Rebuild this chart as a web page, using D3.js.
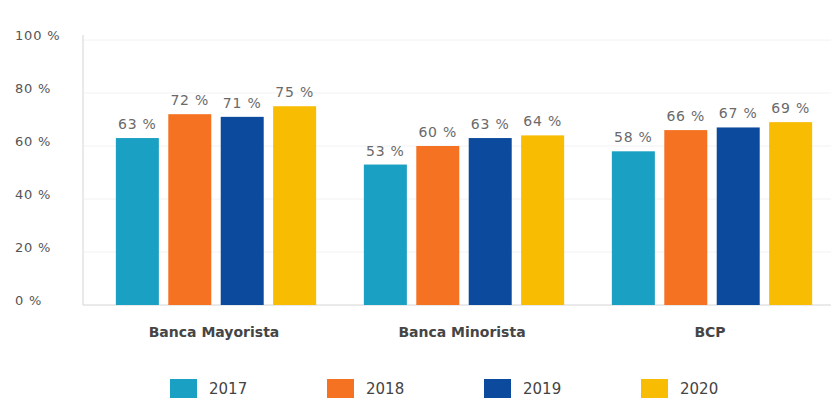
<!DOCTYPE html>
<html>
<head>
<meta charset="utf-8">
<script src="https://cdnjs.cloudflare.com/ajax/libs/d3/7.8.5/d3.min.js"></script>
<style>
  body { margin: 0; background: #fff; }
  svg { display: block; font-family: "DejaVu Sans", sans-serif; }
</style>
</head>
<body>
<div id="chart"></div>
<script>
// data
var groups = ["Banca Mayorista", "Banca Minorista", "BCP"];
var years = ["2017", "2018", "2019", "2020"];
var valuesMayorista = [63, 72, 71, 75];
var valuesMinorista = [53, 60, 63, 64];
var valuesBCP = [58, 66, 67, 69];
var yTicks = [0, 20, 40, 60, 80, 100];
var colors = ["#1aa0c2", "#f47222", "#0b4a9c", "#f8bc02"];

var seriesByGroup = [valuesMayorista, valuesMinorista, valuesBCP];

var width = 831, height = 400;
var svg = d3.select("#chart").append("svg")
    .attr("width", width)
    .attr("height", height);

// scales
var x0 = d3.scaleBand().domain(groups).range([92, 836]);
var x1 = d3.scaleBand().domain(years).range([0, x0.bandwidth()])
    .paddingInner(0.18).paddingOuter(0.455);
var y = d3.scaleLinear().domain([0, 100]).range([305, 40]);
var color = d3.scaleOrdinal().domain(years).range(colors);

// faint gridlines
svg.append("g")
    .selectAll("line")
    .data(yTicks.slice(1))
    .join("line")
    .attr("x1", 84).attr("x2", width)
    .attr("y1", d => y(d)).attr("y2", d => y(d))
    .attr("stroke", "#f2f2f2");

// y axis labels
svg.append("g")
    .selectAll("text")
    .data(yTicks)
    .join("text")
    .attr("x", 15)
    .attr("y", d => y(d) - 5)
    .attr("dy", "0.35em")
    .attr("font-size", 13)
    .attr("letter-spacing", 0.8)
    .attr("fill", "#555")
    .text(d => d + " %");

// axis lines
svg.append("line")
    .attr("x1", 83).attr("x2", 83)
    .attr("y1", 35).attr("y2", y(0))
    .attr("stroke", "#d4d4d4");
svg.append("line")
    .attr("x1", 83).attr("x2", width)
    .attr("y1", y(0)).attr("y2", y(0))
    .attr("stroke", "#d4d4d4");

// bars
var g = svg.append("g")
    .selectAll("g")
    .data(groups)
    .join("g")
    .attr("transform", d => "translate(" + x0(d) + ",0)");

g.selectAll("rect")
    .data((d, i) => seriesByGroup[i].map((v, j) => ({year: years[j], value: v})))
    .join("rect")
    .attr("x", d => x1(d.year))
    .attr("y", d => y(d.value))
    .attr("width", x1.bandwidth())
    .attr("height", d => y(0) - y(d.value))
    .attr("fill", d => color(d.year));

// value labels
g.selectAll("text")
    .data((d, i) => seriesByGroup[i].map((v, j) => ({year: years[j], value: v})))
    .join("text")
    .attr("x", d => x1(d.year) + x1.bandwidth() / 2)
    .attr("y", d => y(d.value) - 9)
    .attr("text-anchor", "middle")
    .attr("font-size", 14)
    .attr("letter-spacing", 0.8)
    .attr("fill", "#6a6a6a")
    .text(d => d.value + " %");

// group labels
svg.append("g")
    .selectAll("text")
    .data(groups)
    .join("text")
    .attr("x", d => x0(d) + x0.bandwidth() / 2 - 2)
    .attr("y", 337)
    .attr("text-anchor", "middle")
    .attr("font-size", 14)
    .attr("font-weight", "bold")
    .attr("fill", "#454545")
    .text(d => d);

// legend
var legendX = d3.scalePoint().domain(years).range([170, 641]);
var legend = svg.append("g")
    .selectAll("g")
    .data(years)
    .join("g")
    .attr("transform", d => "translate(" + legendX(d) + ",379)");
legend.append("rect")
    .attr("width", 27).attr("height", 19)
    .attr("fill", d => color(d));
legend.append("text")
    .attr("x", 39).attr("y", 15)
    .attr("font-size", 15)
    .attr("fill", "#444")
    .text(d => d);
</script>
</body>
</html>
